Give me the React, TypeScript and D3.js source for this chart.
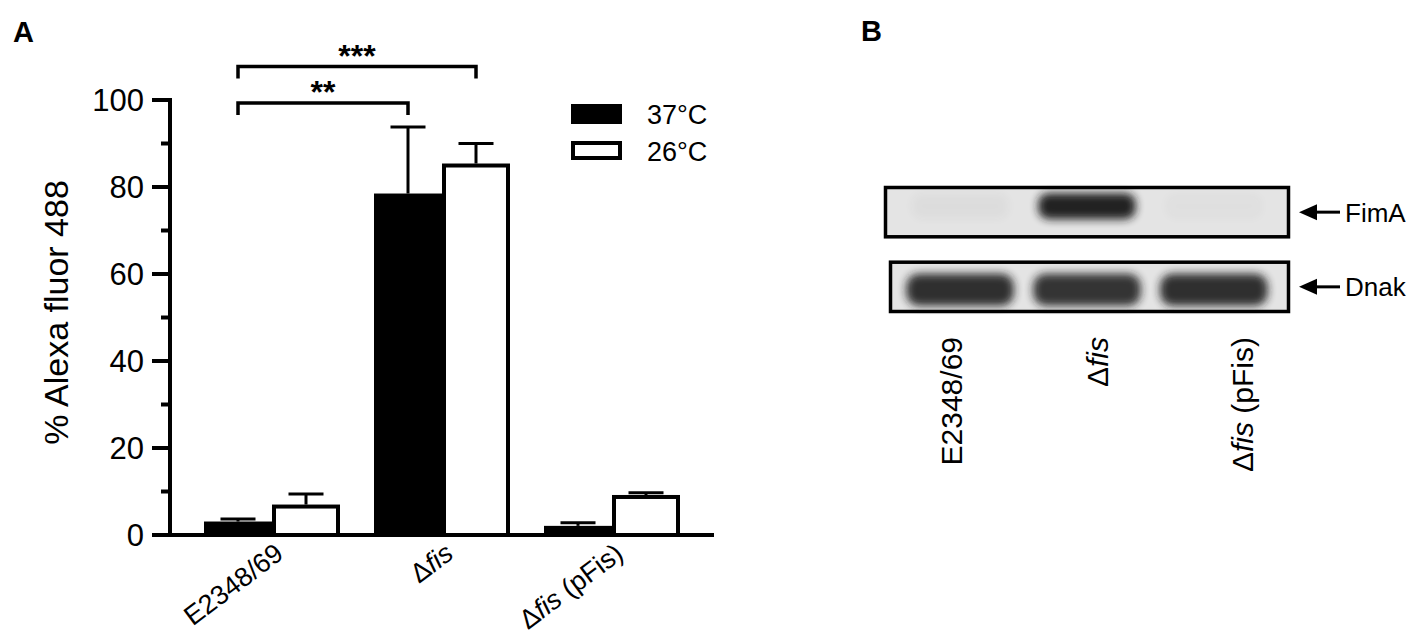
import React from "react";
import * as d3 from "d3";

// strains / lanes
const groups = ["E2348/69", "Δfis", "Δfis (pFis)"];
const temps = ["37°C", "26°C"];
// % Alexa fluor 488 (mean, sd)
const mean37 = [3.1, 78.5, 2.1];
const sd37 = [0.6, 15.3, 0.7];
const mean26 = [7.0, 85.4, 9.2];
const sd26 = [2.4, 4.6, 0.5];
const yTicks = [0, 20, 40, 60, 80, 100];
const yMinor = [10, 30, 50, 70, 90];

// significance brackets: [group, temp index] -> [group, temp index]
const sigFrom = [[0, 0], [0, 0]];
const sigTo = [[1, 0], [1, 1]];
const sigLabel = ["**", "***"];
const sigLevel = [99.3, 107.7];

// western blot (relative band intensity per lane)
const blotRows = ["FimA", "Dnak"];
const fimA = [0.03, 0.97, 0.02];
const dnak = [0.9, 0.88, 0.9];

const FONT = "'Liberation Sans', Arial, Helvetica, sans-serif";

const W = 1425;
const H = 637;

function StrainLabel({ name }: { name: string }) {
  if (name.startsWith("Δ")) {
    const rest = name.slice(4);
    return (
      <>
        <tspan>Δ</tspan>
        <tspan fontStyle="italic">fis</tspan>
        {rest && <tspan>{rest}</tspan>}
      </>
    );
  }
  return <>{name}</>;
}

export default function App() {
  const y = d3.scaleLinear().domain([0, 100]).range([535, 100]);
  const x0 = d3
    .scaleBand<string>()
    .domain(groups)
    .range([170, 714])
    .paddingInner(0.2)
    .paddingOuter(0.2);
  const x1 = d3.scaleBand<string>().domain(temps).range([0, x0.bandwidth()]);
  const barX = (g: number, t: number) => (x0(groups[g]) ?? 0) + (x1(temps[t]) ?? 0);
  const barMid = (g: number, t: number) => barX(g, t) + x1.bandwidth() / 2;

  const means = [mean37, mean26];
  const sds = [sd37, sd26];
  const capW = 35;
  const sw = 4;

  // blot scales
  const lane = d3.scaleBand<string>().domain(groups).range([884, 1290]).padding(0.2);
  const row = d3.scaleBand<string>().domain(blotRows).range([186, 313]).paddingInner(0.3);
  const laneLabel = d3.scalePoint<string>().domain(groups).range([962, 1253]);
  const rowVals = [fimA, dnak];

  return (
    <svg
      width={W}
      height={H}
      style={{ position: "absolute", left: 0, top: 0, background: "#fff" }}
      fontFamily={FONT}
    >
      <defs>
        <filter id="blur" x="-20%" y="-50%" width="140%" height="200%">
          <feGaussianBlur stdDeviation="4" />
        </filter>
      </defs>

      {/* panel letters */}
      <text x={13} y={42} fontSize={29} fontWeight="bold">A</text>
      <text x={861} y={41} fontSize={29} fontWeight="bold">B</text>

      {/* ---- Panel A ---- */}
      {/* bars */}
      {temps.map((t, ti) =>
        groups.map((g, gi) => {
          const v = means[ti][gi];
          const bx = barX(gi, ti);
          const bw = x1.bandwidth();
          if (ti === 0) {
            return (
              <rect key={t + g} x={bx} y={y(v)} width={bw} height={y(0) - y(v)} fill="#000" />
            );
          }
          return (
            <rect
              key={t + g}
              x={bx + sw / 2}
              y={y(v) + sw / 2}
              width={bw - sw}
              height={y(0) - y(v) - sw / 2}
              fill="#fff"
              stroke="#000"
              strokeWidth={sw}
            />
          );
        })
      )}

      {/* error bars */}
      {temps.map((t, ti) =>
        groups.map((g, gi) => {
          const v = means[ti][gi];
          const e = sds[ti][gi];
          const cx = barMid(gi, ti);
          return (
            <g key={"e" + t + g} stroke="#000" strokeWidth={3}>
              <line x1={cx} x2={cx} y1={y(v)} y2={y(v + e)} />
              <line x1={cx - capW / 2} x2={cx + capW / 2} y1={y(v + e)} y2={y(v + e)} />
            </g>
          );
        })
      )}

      {/* axes */}
      <line x1={170} x2={170} y1={y(100) - 2} y2={y(0) + 2} stroke="#000" strokeWidth={4} />
      <line x1={168} x2={714} y1={y(0)} y2={y(0)} stroke="#000" strokeWidth={4} />
      {yTicks.map((t) => (
        <g key={"t" + t}>
          <line x1={152} x2={170} y1={y(t)} y2={y(t)} stroke="#000" strokeWidth={4} />
          <text x={144} y={y(t)} dy="0.36em" textAnchor="end" fontSize={31}>
            {t}
          </text>
        </g>
      ))}
      {yMinor.map((t) => (
        <line key={"m" + t} x1={161} x2={170} y1={y(t)} y2={y(t)} stroke="#000" strokeWidth={4} />
      ))}
      <text
        transform={`translate(68,${(y(0) + y(100)) / 2 - 5}) rotate(-90)`}
        textAnchor="middle"
        fontSize={34}
      >
        % Alexa fluor 488
      </text>

      {/* x labels */}
      {groups.map((g) => (
        <text
          key={"xl" + g}
          transform={`translate(${(x0(g) ?? 0) + x0.bandwidth() / 2 + 13},${557}) rotate(-37)`}
          textAnchor="end"
          fontSize={27}
        >
          <StrainLabel name={g} />
        </text>
      ))}

      {/* significance */}
      {sigLabel.map((lab, i) => {
        const xa = barMid(sigFrom[i][0], sigFrom[i][1]);
        const xb = barMid(sigTo[i][0], sigTo[i][1]);
        const yy = y(sigLevel[i]);
        return (
          <g key={"s" + i}>
            <path
              d={`M${xa},${yy + 12}V${yy}H${xb}V${yy + 12}`}
              fill="none"
              stroke="#000"
              strokeWidth={3.5}
            />
            <text x={(xa + xb) / 2} y={yy} textAnchor="middle" fontSize={32} fontWeight="bold">
              {lab}
            </text>
          </g>
        );
      })}

      {/* legend */}
      {temps.map((t, i) => (
        <g key={"lg" + t} transform={`translate(571,${104 + i * 37})`}>
          {i === 0 ? (
            <rect x={0} y={0} width={51} height={20} fill="#000" />
          ) : (
            <rect x={2} y={2} width={47} height={15} fill="#fff" stroke="#000" strokeWidth={4} />
          )}
          <text x={76} y={20} fontSize={27}>
            {t}
          </text>
        </g>
      ))}

      {/* ---- Panel B ---- */}
      {blotRows.map((r, ri) => {
        const ry = row(r) ?? 0;
        const rh = row.bandwidth();
        const left = ri === 0 ? 884 : 889;
        return (
          <g key={"row" + r}>
            <rect x={left} y={ry} width={1290 - left} height={rh} fill="#e4e4e4" />
            {groups.map((g, gi) => {
              const v = rowVals[ri][gi];
              const lx = lane(g) ?? 0;
              const lw = lane.bandwidth();
              const bh = ri === 0 ? 26 : 32;
              return (
                <rect
                  key={"b" + g}
                  x={lx + (ri === 0 ? 2 : -3)}
                  y={ry + rh / 2 - bh / 2 + (ri === 0 ? -6 : 3)}
                  width={lw - (ri === 0 ? 4 : -6)}
                  height={bh}
                  rx={bh / 2.5}
                  fill="#1a1a1a"
                  opacity={v}
                  filter="url(#blur)"
                />
              );
            })}
            <rect
              x={left + 1.5}
              y={ry + 1.5}
              width={1290 - left - 3}
              height={rh - 3}
              fill="none"
              stroke="#000"
              strokeWidth={3.5}
            />
            {/* arrow + name */}
            <line x1={1312} x2={1340} y1={ry + rh / 2} y2={ry + rh / 2} stroke="#000" strokeWidth={3} />
            <path
              d={`M1299,${ry + rh / 2}L1317,${ry + rh / 2 - 8}L1317,${ry + rh / 2 + 8}Z`}
              fill="#000"
            />
            <text x={1345} y={ry + rh / 2} dy="0.36em" fontSize={26}>
              {r}
            </text>
          </g>
        );
      })}
      {groups.map((g) => (
        <text
          key={"bl" + g}
          transform={`translate(${laneLabel(g)},337) rotate(-90)`}
          textAnchor="end"
          fontSize={30}
        >
          <StrainLabel name={g} />
        </text>
      ))}
    </svg>
  );
}
